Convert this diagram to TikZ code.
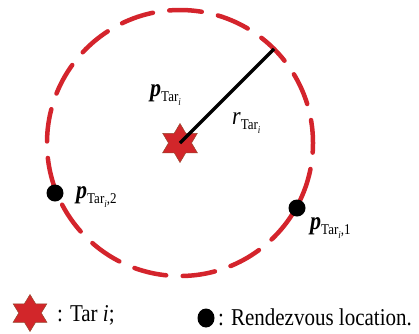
\documentclass[tikz,border=0pt]{standalone}
\usepackage{fontspec}
\setmainfont{Liberation Serif}
\usetikzlibrary{calc,shapes.geometric}
\definecolor{cred}{RGB}{212,36,44}
\definecolor{starred}{RGB}{210,38,42}
\definecolor{starline}{RGB}{150,70,45}
\newcommand\vstretch[1]{\scalebox{1}[1.15]{#1}}
\newcommand\letterp{{\fontsize{22}{22}\selectfont\bfseries\itshape p}}
\newcommand\letterr{{\fontsize{22}{22}\selectfont\itshape r}}
\newcommand\subtar[1]{\raisebox{-5pt}{\fontsize{13}{13}\selectfont Tar\raisebox{-3pt}{\fontsize{9}{9}\selectfont\itshape i}#1}}
\newcommand\hexagram[4]{% name, position, rx, ry
  \coordinate (#1) at #2;
  \filldraw[hexfill, shift={#2}, xscale=#3, yscale=#4]
    (90:1) -- (60:0.57735) -- (30:1) -- (0:0.57735) -- (-30:1) -- (-60:0.57735)
    -- (-90:1) -- (-120:0.57735) -- (-150:1) -- (180:0.57735) -- (150:1)
    -- (120:0.57735) -- cycle;}
\begin{document}
\begin{tikzpicture}[x=1pt,y=-1pt,
  ring/.style={draw=cred, line width=4.5pt, line cap=round,
    dash pattern=on 32.6pt off 16.56pt, dash phase=23pt},
  spoke/.style={draw=black, line width=3.5pt},
  rdv/.style={circle, fill=black, inner sep=0pt, minimum size=17pt},
  legdot/.style={ellipse, fill=black, inner sep=0pt, minimum width=17pt, minimum height=19pt},
  lbl/.style={inner sep=0pt, anchor=base west},
  leg/.style={inner sep=0pt, anchor=base west, font=\fontsize{21}{21}\selectfont},
  hexfill/.style={fill=starred, draw=starline, line width=0.5pt, line join=miter}
]
\useasboundingbox (0,0) rectangle (419,333);
% dashed ring
\draw[ring] (180,143) circle[radius=133];
% rendezvous points
\node[rdv] (r2) at (55,193) {};
\node[rdv] (r1) at (297,208) {};
% target star
\hexagram{tar}{(180,143)}{20}{19.5}
\coordinate (rim) at ($(180,143)+(-45:133)$);
\draw[spoke] (tar) -- (rim);
% labels
\node[lbl] (ptar) at (150,96) {\vstretch{\letterp\subtar{}}};
\node[lbl] (rtar) at (232,124) {\vstretch{\letterr\subtar{}}};
\node[lbl] (p2) at (76,198) {\vstretch{\letterp\subtar{,2}}};
\node[lbl] (p1) at (310,229) {\vstretch{\letterp\subtar{,1}}};
% legend
\hexagram{legstar}{(30,313)}{19.5}{18.5}
\node[leg] (legtxt1) at (57,321) {\vstretch{: Tar \textit{i};}};
\node[legdot] (legdot) at (206,318) {};
\node[leg] (legtxt2) at (218,325) {\vstretch{: Rendezvous location.}};
\end{tikzpicture}
\end{document}
